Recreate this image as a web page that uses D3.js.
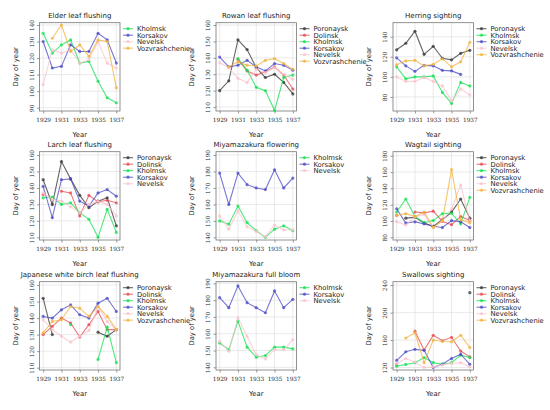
<!DOCTYPE html>
<meta charset="utf-8">
<script src="https://d3js.org/d3.v7.min.js"></script>
<style>
  body { margin: 0; background: #fff; }
  text { font-family: "DejaVu Sans", sans-serif; fill: #222; }
  .tick text { font-family: "DejaVu Serif", serif; font-size: 5.8px; }
</style>
<div id="my_dataviz"></div>
<script>

// years on the x axis
var years = [1929, 1930, 1931, 1932, 1933, 1934, 1935, 1936, 1937];
var xTicks = [1929, 1931, 1933, 1935, 1937];

// Elder leaf flushing
var elderKholmsk = [135, 123, 128, 131, 117, 118, 106, 96, 93];
var elderKorsakov = [130, 114, 115, 128, 124, 124, 135, 131, 117];
var elderNevelsk = [104, 125, 123, 125, 117, 119, 130, 117, 114];
var elderVozvr = [null, 132, 140, 124, 128, 121, 131, 130, 102];

// Rowan leaf flushing
var rowanPoronaysk = [120, 126, 151, 145, 134, 128, 130, 125, 118];
var rowanDolinsk = [null, null, 139, 132, 129.5, 131.5, 134.5, 129.5, 121];
var rowanKholmsk = [null, null, 139.5, 132.5, 122, 120, 108, 128, 129.5];
var rowanKorsakov = [140.5, 134.5, 135.5, 138.5, 134.5, 132, 136.5, 135.5, 132.5];
var rowanNevelsk = [137, 134, 127.5, 125, 133, 131, 134, 130, 127];
var rowanVozvr = [null, 134.5, 137.5, 135.5, 135, 138.5, 139.5, 136.5, 133];

// Herring sighting
var herringPoronaysk = [127, 133.5, 145.5, 122.5, 130.5, 118.5, 117, 123.5, 126.5];
var herringKholmsk = [110, 98, 100, 100, 101, 84.5, 73.5, 94.5, 91];
var herringKorsakov = [119, 111, 105.5, 111.5, 111, 106.5, 106, 102.5, null];
var herringNevelsk = [100, 95.5, 95.5, 99.5, 95.5, 91, 76, 88, 82];
var herringVozvr = [112, 116, 116.5, 111, 112.5, 118, 110, 115, 134.5];

// Larch leaf flushing
var larchPoronaysk = [145, 130, 156, 145.5, 135.5, 128, 132, 134, 117];
var larchDolinsk = [136, null, 138, 137, 123, 135.5, 131.5, 132.5, 131];
var larchKholmsk = [134, 134.5, 130, 131, 125, 121, 110, 127, 113];
var larchKorsakov = [141, 122, 145, 145.5, 132, 129, 137, 139, 135];
var larchNevelsk = [137, 133, 132, 128.5, 125, 130, 132, 130, 123];

// Miyamazakura flowering
var flowerKholmsk = [150, 148, 159, 149, 144, 140, 145, 147, 144];
var flowerKorsakov = [179, 160, 179, 172, 170, 169, 181, 170, 176];
var flowerNevelsk = [153, 145, 156, 146.5, 143.5, 140.5, 147.5, 144.5, 144.5];

// Wagtail sighting
var wagtailPoronaysk = [null, 103.5, 104.5, 97.5, 93.5, 101.5, 111, 127, 103.5];
var wagtailDolinsk = [107, null, 111, 110, 112, 99.5, 95.5, 105.5, 100.5];
var wagtailKholmsk = [111, 127, 105.5, 98, 100.5, 109, 109.5, 96.5, 129];
var wagtailKorsakov = [115, 97.5, 99, 96.5, 93.5, 92, 100.5, 99, 92];
var wagtailNevelsk = [99, 95, 105, 108, 92, 100, 115, 144, 100];
var wagtailVozvr = [107, 109, 105.5, 111, 92, 100.5, 163, 101.5, 98];

// Japanese white birch leaf flushing
var birchPoronaysk = [152, 130, null, null, null, null, 131.5, 129, 133];
var birchDolinsk = [130, 135, 140, 137, 128.5, 136, 144, 133, 133];
var birchKholmsk = [null, null, null, 136, null, null, 115, 134.5, 113];
var birchKorsakov = [141, 140, 145, 148, 142, 140, 149, 152, 144];
var birchNevelsk = [139, 133, 129, 125.5, 129, 132.5, 147, 138, 133];
var birchVozvr = [131, 138, 139, 147, 146, 141, 147, 141, 133];

// Miyamazakura full bloom
var bloomKholmsk = [154.5, 150.5, 167.5, 152, 146, 147, 152, 152, 151];
var bloomKorsakov = [181.5, 175.5, 188.5, 178.5, 175.5, 172.5, 185.5, 175.5, 180.5];
var bloomNevelsk = [155.5, 149.5, 169.5, 158.5, 147.5, 145, 150.5, 150.5, 156.5];

// Swallows sighting
var swallowPoronaysk = [null, null, null, null, null, null, null, null, 229];
var swallowDolinsk = [124.5, null, 173, 145.5, 167, 159, 164, 144, 135.5];
var swallowKholmsk = [122, 124.5, 127, 134.5, 127, 125, 127, 138, 134.5];
var swallowKorsakov = [130.5, 143, 146.5, 145, 120, 125, 133, 139.5, 124.5];
var swallowNevelsk = [126, 133, 128, 120, 121, 124, 126, 127, 121];
var swallowVozvr = [null, 163, 170.5, 127, 160, 158, 157.5, 167, 149];

var colors = {
  Poronaysk: "#333333",
  Dolinsk: "#e8484f",
  Kholmsk: "#12e050",
  Korsakov: "#4a4ac4",
  Nevelsk: "#f9c3cc",
  Vozvrashchenie: "#f2b23c"
};

// panels in reading order
var panels = [
  {title: "Elder leaf flushing", yDomain: [88, 141.4], yTicks: [90, 100, 110, 120, 130, 140],
   series: [["Kholmsk", elderKholmsk], ["Korsakov", elderKorsakov], ["Nevelsk", elderNevelsk], ["Vozvrashchenie", elderVozvr]]},
  {title: "Rowan leaf flushing", yDomain: [107.6, 161.4], yTicks: [110, 120, 130, 140, 150, 160],
   series: [["Poronaysk", rowanPoronaysk], ["Dolinsk", rowanDolinsk], ["Kholmsk", rowanKholmsk], ["Korsakov", rowanKorsakov], ["Nevelsk", rowanNevelsk], ["Vozvrashchenie", rowanVozvr]]},
  {title: "Herring sighting", yDomain: [66, 154], yTicks: [80, 100, 120, 140],
   series: [["Poronaysk", herringPoronaysk], ["Kholmsk", herringKholmsk], ["Korsakov", herringKorsakov], ["Nevelsk", herringNevelsk], ["Vozvrashchenie", herringVozvr]]},
  {title: "Larch leaf flushing", yDomain: [108.4, 162], yTicks: [110, 120, 130, 140, 150, 160],
   series: [["Poronaysk", larchPoronaysk], ["Dolinsk", larchDolinsk], ["Kholmsk", larchKholmsk], ["Korsakov", larchKorsakov], ["Nevelsk", larchNevelsk]]},
  {title: "Miyamazakura flowering", yDomain: [138.4, 192], yTicks: [140, 150, 160, 170, 180, 190],
   series: [["Kholmsk", flowerKholmsk], ["Korsakov", flowerKorsakov], ["Nevelsk", flowerNevelsk]]},
  {title: "Wagtail sighting", yDomain: [76.7, 185], yTicks: [80, 100, 120, 140, 160, 180],
   series: [["Poronaysk", wagtailPoronaysk], ["Dolinsk", wagtailDolinsk], ["Kholmsk", wagtailKholmsk], ["Korsakov", wagtailKorsakov], ["Nevelsk", wagtailNevelsk], ["Vozvrashchenie", wagtailVozvr]]},
  {title: "Japanese white birch leaf flushing", yDomain: [108.6, 162], yTicks: [110, 120, 130, 140, 150, 160],
   series: [["Poronaysk", birchPoronaysk], ["Dolinsk", birchDolinsk], ["Kholmsk", birchKholmsk], ["Korsakov", birchKorsakov], ["Nevelsk", birchNevelsk], ["Vozvrashchenie", birchVozvr]]},
  {title: "Miyamazakura full bloom", yDomain: [138.4, 191], yTicks: [140, 150, 160, 170, 180, 190],
   series: [["Kholmsk", bloomKholmsk], ["Korsakov", bloomKorsakov], ["Nevelsk", bloomNevelsk]]},
  {title: "Swallows sighting", yDomain: [116.4, 245], yTicks: [120, 160, 200, 240],
   series: [["Poronaysk", swallowPoronaysk], ["Dolinsk", swallowDolinsk], ["Kholmsk", swallowKholmsk], ["Korsakov", swallowKorsakov], ["Nevelsk", swallowNevelsk], ["Vozvrashchenie", swallowVozvr]]}
];

// layout of the 3x3 grid
var colX = [39.5, 216, 393],
    rowY = [22.7, 151.7, 281.7],
    pw = 80.5,
    ph = 88.3;

var svg = d3.select("#my_dataviz")
  .append("svg")
    .attr("width", 550)
    .attr("height", 410);

svg.append("rect").attr("width", 550).attr("height", 410).attr("fill", "#fff");

panels.forEach(function(p, i) {
  var col = i % 3, row = Math.floor(i / 3);
  var g = svg.append("g")
    .attr("transform", "translate(" + colX[col] + "," + rowY[row] + ")");

  var x = d3.scaleLinear().domain([1928.6, 1937.4]).range([0, pw]);
  var y = d3.scaleLinear().domain(p.yDomain).range([ph, 0]);

  // grid
  g.selectAll(".vgrid").data(xTicks).enter().append("line")
    .attr("x1", function(d) { return x(d); }).attr("x2", function(d) { return x(d); })
    .attr("y1", 0).attr("y2", ph)
    .attr("stroke", "#dcdcdc").attr("stroke-width", 0.6);
  g.selectAll(".hgrid").data(p.yTicks).enter().append("line")
    .attr("y1", function(d) { return y(d); }).attr("y2", function(d) { return y(d); })
    .attr("x1", 0).attr("x2", pw)
    .attr("stroke", "#dcdcdc").attr("stroke-width", 0.6);

  // axes
  var xa = g.append("g")
    .attr("transform", "translate(0," + ph + ")")
    .call(d3.axisBottom(x).tickValues(xTicks).tickFormat(d3.format("d")).tickSize(2.5).tickPadding(4.5));
  xa.select(".domain").remove();
  xa.selectAll("line").attr("stroke", "#555").attr("stroke-width", 0.6);

  var ya = g.append("g")
    .call(d3.axisLeft(y).tickValues(p.yTicks).tickSize(2.5));
  ya.select(".domain").remove();
  ya.selectAll("line").attr("stroke", "#555").attr("stroke-width", 0.6);
  ya.selectAll("text")
    .attr("x", 0).attr("dy", 0)
    .attr("transform", "translate(-6,0) rotate(-90)")
    .style("text-anchor", "middle");

  // frame
  g.append("rect")
    .attr("width", pw).attr("height", ph)
    .attr("fill", "none").attr("stroke", "#777").attr("stroke-width", 0.8);

  // title and labels
  g.append("text")
    .attr("x", pw / 2).attr("y", -5)
    .attr("text-anchor", "middle")
    .style("font-size", "7px")
    .text(p.title);
  g.append("text")
    .attr("x", pw / 2).attr("y", ph + 26.5)
    .attr("text-anchor", "middle")
    .style("font-size", "6.8px")
    .text("Year");
  g.append("text")
    .attr("transform", "rotate(-90)")
    .attr("x", -ph / 2).attr("y", -22)
    .attr("text-anchor", "middle")
    .style("font-size", "6.8px")
    .text("Day of year");

  var line = d3.line()
    .defined(function(d) { return d.v != null; })
    .x(function(d) { return x(d.year); })
    .y(function(d) { return y(d.v); });

  p.series.forEach(function(s) {
    var pts = years.map(function(yr, k) { return {year: yr, v: s[1][k]}; });
    var c = colors[s[0]];
    g.append("path")
      .datum(pts)
      .attr("d", line)
      .attr("fill", "none")
      .attr("stroke", c)
      .attr("stroke-opacity", 0.75)
      .attr("stroke-width", 1.1);
    g.selectAll(null)
      .data(pts.filter(function(d) { return d.v != null; }))
      .enter().append("circle")
        .attr("cx", function(d) { return x(d.year); })
        .attr("cy", function(d) { return y(d.v); })
        .attr("r", 1.6)
        .attr("fill", c)
        .attr("fill-opacity", 0.75);
  });

  // legend
  var lg = g.append("g").attr("transform", "translate(" + (pw + 3) + ",6)");
  p.series.forEach(function(s, k) {
    var c = colors[s[0]];
    var row = lg.append("g").attr("transform", "translate(0," + (k * 6.5) + ")");
    row.append("line").attr("x1", 0).attr("x2", 10)
      .attr("stroke", c).attr("stroke-opacity", 0.75).attr("stroke-width", 1.1);
    row.append("circle").attr("cx", 5).attr("r", 1.6).attr("fill", c).attr("fill-opacity", 0.75);
    row.append("text").attr("x", 14).attr("dy", "0.35em")
      .style("font-size", "6.8px")
      .text(s[0]);
  });
});

</script>
